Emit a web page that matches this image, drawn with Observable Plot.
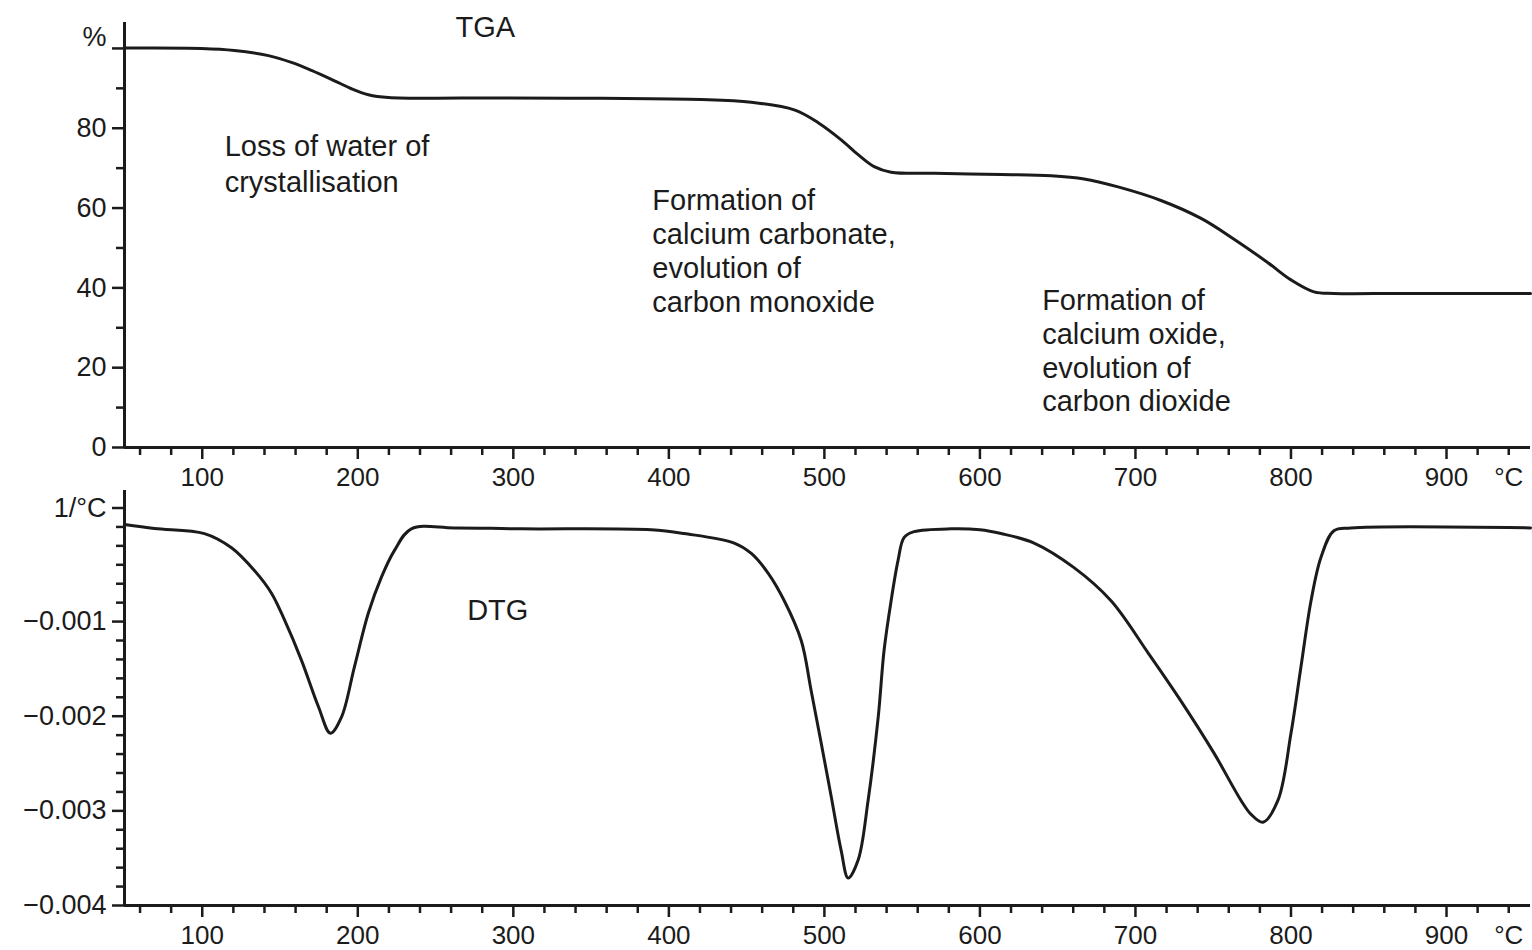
<!DOCTYPE html>
<html>
<head>
<meta charset="utf-8">
<script src="https://cdn.jsdelivr.net/npm/d3@7"></script>
<script src="https://cdn.jsdelivr.net/npm/@observablehq/plot@0.6"></script>
<style>
  html, body { margin: 0; padding: 0; background: #fff; }
  #chart svg { display: block; }
</style>
</head>
<body>
<div id="chart"></div>
<script>
// ---------- data ----------
// TGA: mass remaining (%) vs temperature (°C)
const tgaTemp = [50, 99.5, 120.7, 142.5, 157.3, 170.2, 185, 195.9, 206.8, 219.7, 292.3, 356.6, 420.8, 453, 480.6, 496, 510.8, 521.7, 532, 542.9, 570.6, 613.6, 645.8, 667, 688.8, 716.4, 742.2, 763.4, 785.2, 800, 814.8, 827.6, 870.7, 954];
const tgaMass = [100.1, 100, 99.5, 98.2, 96.5, 94.5, 91.9, 89.9, 88.4, 87.7, 87.6, 87.5, 87.2, 86.5, 84.6, 81.4, 77.1, 73.4, 70.4, 69.0, 68.7, 68.4, 68.1, 67.3, 65.3, 61.9, 57.4, 52.2, 46.3, 42.0, 39.0, 38.6, 38.6, 38.6];

// DTG: derivative (1/°C) vs temperature (°C)
const dtgTemp = [50, 69.3, 101.4, 118.8, 133.5, 144.5, 152.8, 163.8, 174.7, 182.4, 189.5, 197.8, 206.8, 215.2, 223.5, 234.4, 262, 305, 388.7, 409.9, 442, 453, 463.9, 474.2, 485.1, 491.5, 497.9, 504.4, 510.8, 515.3, 521.7, 528.1, 534.6, 538.4, 542.9, 547.4, 551.3, 557.7, 581.5, 600, 613.6, 634.8, 660.5, 684.3, 708.1, 729.3, 750.5, 767.9, 774.5, 782, 791.6, 800, 806.4, 812.9, 819.3, 827.6, 838.6, 954];
const dtgRate = [0.000026, -0.000016, -0.00007, -0.00022, -0.00046, -0.0007, -0.00098, -0.00141, -0.0019, -0.00218, -0.00201, -0.00148, -0.00091, -0.00053, -0.00025, -0.00002, -0.00001, -0.00002, -0.00003, -0.00007, -0.00017, -0.00028, -0.00049, -0.00078, -0.0012, -0.00173, -0.00228, -0.00285, -0.00342, -0.00371, -0.00352, -0.00289, -0.00201, -0.0013, -0.00078, -0.00035, -0.00011, -0.00005, -0.00002, -0.00003, -0.00007, -0.00017, -0.00043, -0.00078, -0.00133, -0.00184, -0.00239, -0.00289, -0.00304, -0.00312, -0.00289, -0.00218, -0.00148, -0.00078, -0.00032, -0.00004, -0.00001, -0.00001];

// tick labels
const tempTicks = [100, 200, 300, 400, 500, 600, 700, 800, 900];
const tempTickLabels = ["100", "200", "300", "400", "500", "600", "700", "800", "900"];
const tempUnit = "°C";
const tgaTicks = [0, 20, 40, 60, 80, 100];
const tgaTickLabels = ["0", "20", "40", "60", "80", "%"];
const dtgTicks = [-0.004, -0.003, -0.002, -0.001, 0.0002];
const dtgTickLabels = ["\u22120.004", "\u22120.003", "\u22120.002", "\u22120.001", "1/°C"];

// annotations (anchored in data coordinates)
const tgaNoteText = ["Loss of water of\ncrystallisation", "Formation of\ncalcium carbonate,\nevolution of\ncarbon monoxide", "Formation of\ncalcium oxide,\nevolution of\ncarbon dioxide"];
const tgaNoteTemp = [114.4, 389.4, 640];
const tgaNoteMass = [79.5, 65.4, 40.4];
const panelTitles = ["TGA", "DTG"];

// ---------- build ----------
const W = 1532;
const FONT = "'Liberation Sans', Arial, Helvetica, sans-serif";
const INK = "#1b1b1b";
const xDomain = [50, 954];
const minorTemp = d3.range(60, 941, 20).filter(t => t % 100 !== 0);

const tga = tgaTemp.map((t, i) => ({t, v: tgaMass[i]}));
const dtg = dtgTemp.map((t, i) => ({t, v: dtgRate[i]}));
const notes = tgaNoteText.map((text, i) => ({text, t: tgaNoteTemp[i], v: tgaNoteMass[i]}));

const labelOf = (ticks, labels) => d => { const i = ticks.findIndex(k => Math.abs(k - d) < 1e-9); return i >= 0 ? labels[i] : ""; };

function xAxisMarks() {
  return [
    Plot.axisX(minorTemp, {tickSize: 8, strokeWidth: 2.5, stroke: INK, tickFormat: () => "", label: null}),
    Plot.axisX(tempTicks, {tickSize: 12, tickPadding: 8, strokeWidth: 2.5, stroke: INK, fill: INK, fontSize: 26, tickFormat: labelOf(tempTicks, tempTickLabels), label: null}),
    Plot.axisX([940], {tickSize: 0, tickPadding: 20, fill: INK, fontSize: 26, tickFormat: () => tempUnit, label: null})
  ];
}

const tgaMain = tgaTicks.slice(0, 5);

const topPlot = Plot.plot({
  width: W, height: 490,
  marginLeft: 124, marginRight: 2, marginTop: 22, marginBottom: 43,
  style: {fontFamily: FONT, background: "white", color: INK, overflow: "visible"},
  x: {domain: xDomain, label: null},
  y: {domain: [0, 106.5], label: null},
  marks: [
    ...xAxisMarks(),
    Plot.axisY(d3.range(10, 100, 20), {tickSize: 8, strokeWidth: 2.5, stroke: INK, tickFormat: () => "", label: null}),
    Plot.axisY(tgaTicks, {tickSize: 12, tickPadding: 6, strokeWidth: 2.5, stroke: INK, fill: INK, fontSize: 27, tickFormat: d => (d === 100 ? "" : labelOf(tgaTicks, tgaTickLabels)(d)), label: null}),
    Plot.axisY([100], {tickSize: 0, tickPadding: 18, dy: -11, fill: INK, fontSize: 27, tickFormat: labelOf(tgaTicks, tgaTickLabels), label: null}),
    Plot.ruleX([50], {stroke: INK, strokeWidth: 3}),
    Plot.ruleY([0], {stroke: INK, strokeWidth: 3}),
    Plot.line(tga, {x: "t", y: "v", stroke: INK, strokeWidth: 3, curve: "catmull-rom"}),
    Plot.text(notes.slice(0, 1), {x: "t", y: "v", text: "text", textAnchor: "start", lineAnchor: "top", lineHeight: 36 / 29, fontSize: 29, fill: INK}),
    Plot.text(notes.slice(1), {x: "t", y: "v", text: "text", textAnchor: "start", lineAnchor: "top", lineHeight: 33.7 / 29, fontSize: 29, fill: INK}),
    Plot.text([panelTitles[0]], {x: [282], y: [105.3], text: d => d, fontSize: 29, fill: INK})
  ]
});

const bottomPlot = Plot.plot({
  width: W, height: 460,
  marginLeft: 124, marginRight: 2, marginTop: 0, marginBottom: 45,
  style: {fontFamily: FONT, background: "white", color: INK, overflow: "visible"},
  x: {domain: xDomain, label: null},
  y: {domain: [-0.004, 0.000385], label: null},
  marks: [
    ...xAxisMarks(),
    Plot.axisY(d3.range(-38, 1, 2).filter(k => k % 10 !== 0 || k === 0).map(k => k / 10000), {tickSize: 8, strokeWidth: 2.5, stroke: INK, tickFormat: () => "", label: null}),
    Plot.axisY(dtgTicks, {tickSize: 12, tickPadding: 6, strokeWidth: 2.5, stroke: INK, fill: INK, fontSize: 27, tickFormat: labelOf(dtgTicks, dtgTickLabels), label: null}),
    Plot.ruleX([50], {stroke: INK, strokeWidth: 3}),
    Plot.ruleY([-0.004], {stroke: INK, strokeWidth: 3}),
    Plot.line(dtg, {x: "t", y: "v", stroke: INK, strokeWidth: 3, curve: "catmull-rom"}),
    Plot.text([panelTitles[1]], {x: [290], y: [-0.00088], text: d => d, fontSize: 29, fill: INK})
  ]
});

const chart = document.getElementById("chart");
chart.appendChild(topPlot);
chart.appendChild(bottomPlot);
</script>
</body>
</html>
